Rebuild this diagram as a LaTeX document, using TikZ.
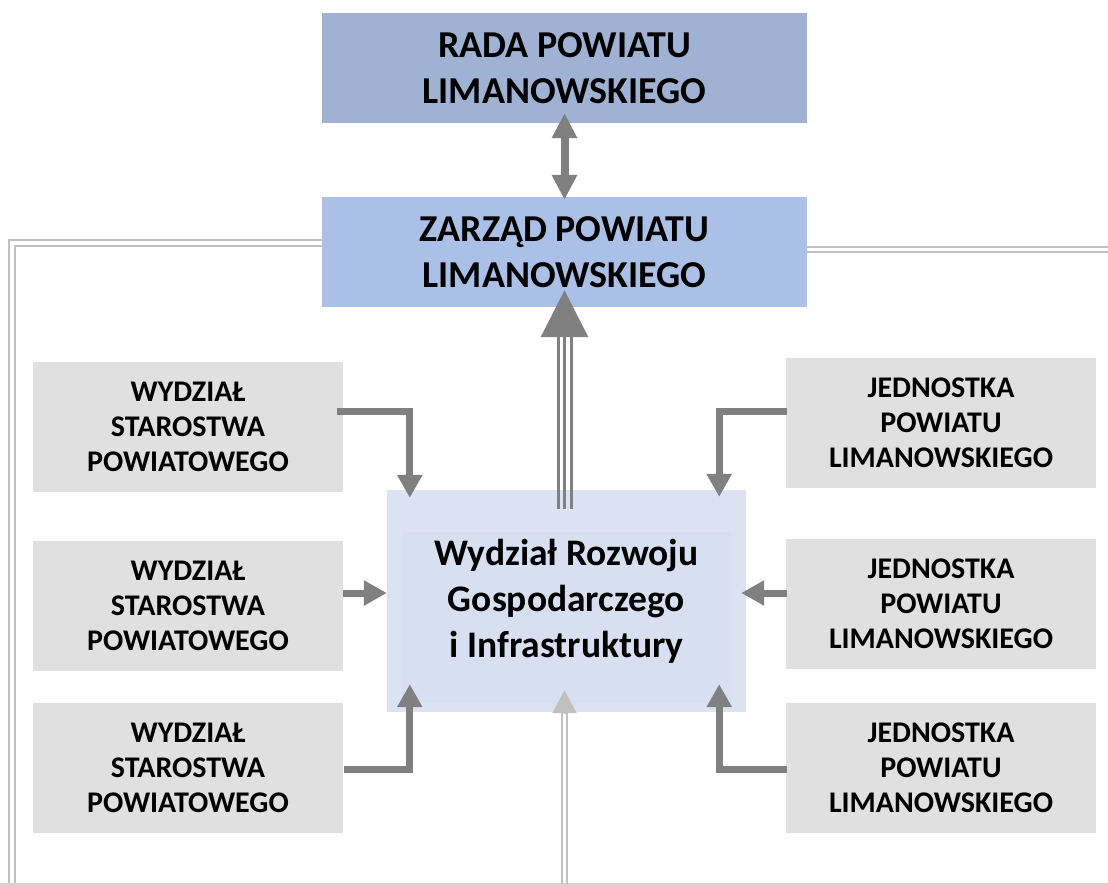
\documentclass[tikz,border=0pt]{standalone}
\usepackage{fontspec}
\setmainfont{Carlito}
\usetikzlibrary{arrows.meta}

\definecolor{radablue}{RGB}{160,178,212}
\definecolor{zarzadblue}{RGB}{171,192,230}
\definecolor{wrdblue}{RGB}{219,227,243}
\definecolor{wrdinner}{RGB}{215,224,241}
\definecolor{boxgray}{RGB}{224,224,224}
\definecolor{arrgray}{RGB}{128,128,128}
\definecolor{framegray}{RGB}{192,192,192}
\definecolor{linegray}{RGB}{210,210,210}

\begin{document}
\begin{tikzpicture}[x=1pt,y=-1pt,
    topbox/.style={inner sep=0pt, minimum width=485pt, minimum height=110pt, align=center,
        font=\fontsize{38}{46}\selectfont\bfseries},
    sidebox/.style={fill=boxgray, inner sep=0pt, minimum width=310pt, minimum height=130pt,
        align=center, font=\fontsize{30}{35}\selectfont\bfseries},
    elbow/.style={draw=arrgray, line width=7pt, -{Triangle[width=24pt,length=23pt]}},
    frame/.style={draw=framegray, line width=2pt, double=white, double distance=4pt}]

\useasboundingbox (0,0) rectangle (1108,885);

\coordinate (lb) at (12,884);
\coordinate (re) at (1108,249.5);
\coordinate (b0) at (0,884);
\coordinate (b1) at (1108,884);
\coordinate (bc) at (564.5,884);

\node[topbox, fill=radablue]   (rada)   at (564.5,68)  {RADA POWIATU\\LIMANOWSKIEGO};
\node[topbox, fill=zarzadblue] (zarzad) at (564.5,252) {ZARZĄD POWIATU\\LIMANOWSKIEGO};

\node[fill=wrdblue, inner sep=0pt, minimum width=359pt, minimum height=222pt, align=center,
    font=\fontsize{37.5}{46}\selectfont\bfseries,
    path picture={\fill[wrdinner] ([xshift=15pt,yshift=-42pt]path picture bounding box.north west)
        rectangle ([xshift=-15pt,yshift=9pt]path picture bounding box.south east);}]
    (wrd) at (566.5,601) {Wydział Rozwoju\\Gospodarczego\\i Infrastruktury};

\foreach \i/\y in {1/427,2/606,3/768}
    \node[sidebox] (wsp\i) at (188,\y) {WYDZIAŁ\\STAROSTWA\\POWIATOWEGO};

\foreach \i/\y in {1/423,2/603.5,3/768}
    \node[sidebox] (jed\i) at (941,\y) {JEDNOSTKA\\POWIATU\\LIMANOWSKIEGO};

\draw[frame] ([yshift=9pt]zarzad.west) -| (lb);
\draw[frame, double distance=3pt] ([yshift=2.5pt]zarzad.east) -- (re);
\draw[linegray, line width=1.5pt] (b0) -- (b1);

\draw[draw=arrgray, line width=8pt, {Triangle[width=24pt,length=25pt]}-{Triangle[width=24pt,length=25pt]},
    shorten <=-10pt, shorten >=-3pt] (rada) -- (zarzad);

\foreach \dx in {-6.5,0,6.5}
    \draw[arrgray, line width=3pt, shorten <=-19pt, shorten >=30pt]
        ([xshift=\dx pt]zarzad.south |- wrd.north) -- ([xshift=\dx pt]zarzad.south);
\draw[arrgray, line width=3pt, -{Triangle[width=47pt,length=47pt]}, shorten >=-17pt]
    ([yshift=-30pt]zarzad.south) -- (zarzad.south);

\foreach \dx in {-2.5,2.5}
    \draw[framegray, line width=2pt] ([xshift=\dx pt]bc) -- ([xshift=\dx pt]bc |- wrd.south);
\draw[framegray, line width=2pt, -{Triangle[width=24pt,length=23pt]}, shorten >=-22pt]
    ([yshift=-1pt]bc |- wrd.south) -- (bc |- wrd.south);

\draw[elbow, shorten >=-8pt] ([xshift=-6pt,yshift=16pt]wsp1.east) -| ([xshift=23pt]wrd.north west);
\draw[elbow, shorten >=0pt] ([yshift=13pt]wsp2.east) -- ([yshift=13pt]wsp2.east -| wrd.west);
\draw[elbow, shorten >=-28pt] ([xshift=1pt,yshift=-1pt]wsp3.east) -| ([xshift=23pt]wrd.south west);

\draw[elbow, shorten >=-7pt] ([xshift=1pt,yshift=12pt]jed1.west) -| ([xshift=-27pt]wrd.north east);
\draw[elbow, shorten >=-5pt] ([xshift=1pt,yshift=10.5pt]jed2.west) -- ([yshift=10.5pt]jed2.west -| wrd.east);
\draw[elbow, shorten >=-28pt] ([xshift=1pt,yshift=-1pt]jed3.west) -| ([xshift=-27pt]wrd.south east);

\end{tikzpicture}
\end{document}
